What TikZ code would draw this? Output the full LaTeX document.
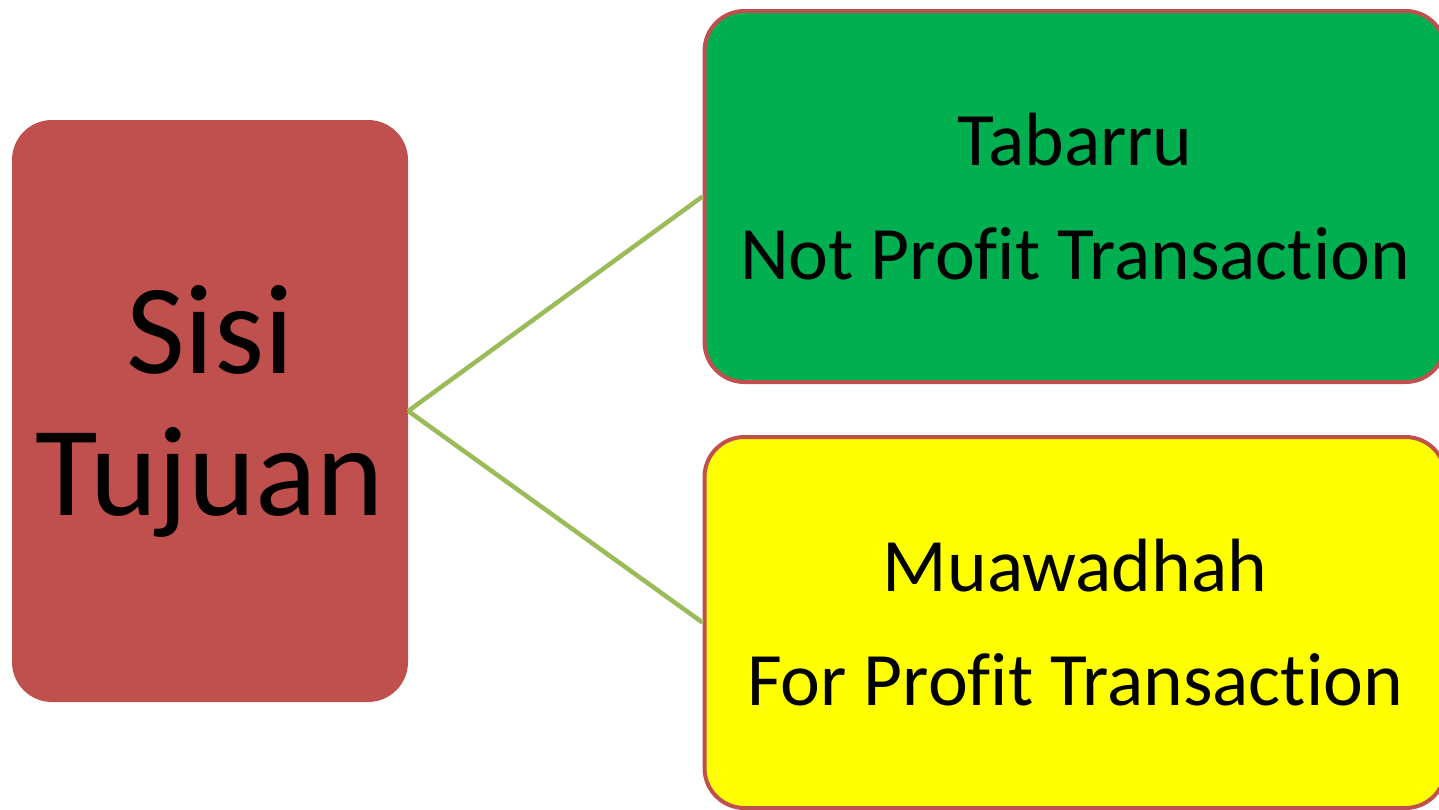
\documentclass[tikz,border=0pt]{standalone}
\usepackage{fontspec}
\setmainfont[RawFeature={-liga;-clig;-dlig}]{Carlito}
\usetikzlibrary{positioning}

\definecolor{boxred}{HTML}{C0504D}
\definecolor{boxgreen}{HTML}{00B050}
\definecolor{boxyellow}{HTML}{FFFF00}
\definecolor{linkgreen}{HTML}{9BBB59}

\tikzset{
  mainbox/.style={rectangle, rounded corners=40pt, fill=boxred, draw=none,
    minimum width=396pt, minimum height=582pt, align=center,
    font=\fontsize{128}{142}\selectfont},
  sidebox/.style={rectangle, rounded corners=40pt, draw=boxred, line width=4pt,
    minimum width=741pt, minimum height=371pt, align=center,
    font=\fontsize{75.5}{114}\selectfont},
  link/.style={linkgreen, line width=4.5pt}
}

\begin{document}
\begin{tikzpicture}[x=1pt,y=-1pt]
 \useasboundingbox (0,0) rectangle (1439,809);
 \clip (0,0) rectangle (1439,809);
    % left box
    \node[mainbox] (tujuan) at (210,411) {Sisi\\Tujuan};
    % right boxes
    \node[sidebox, fill=boxgreen] (tabarru) at (1075,196.5) {Tabarru\\Not Profit Transaction};
    \node[sidebox, fill=boxyellow] (muawadhah) at (1075,622.5) {Muawadhah\\For Profit Transaction};
    % links
    \draw[link] (tujuan.east) -- (tabarru.west);
    \draw[link] (tujuan.east) -- (muawadhah.west);
\end{tikzpicture}
\end{document}
